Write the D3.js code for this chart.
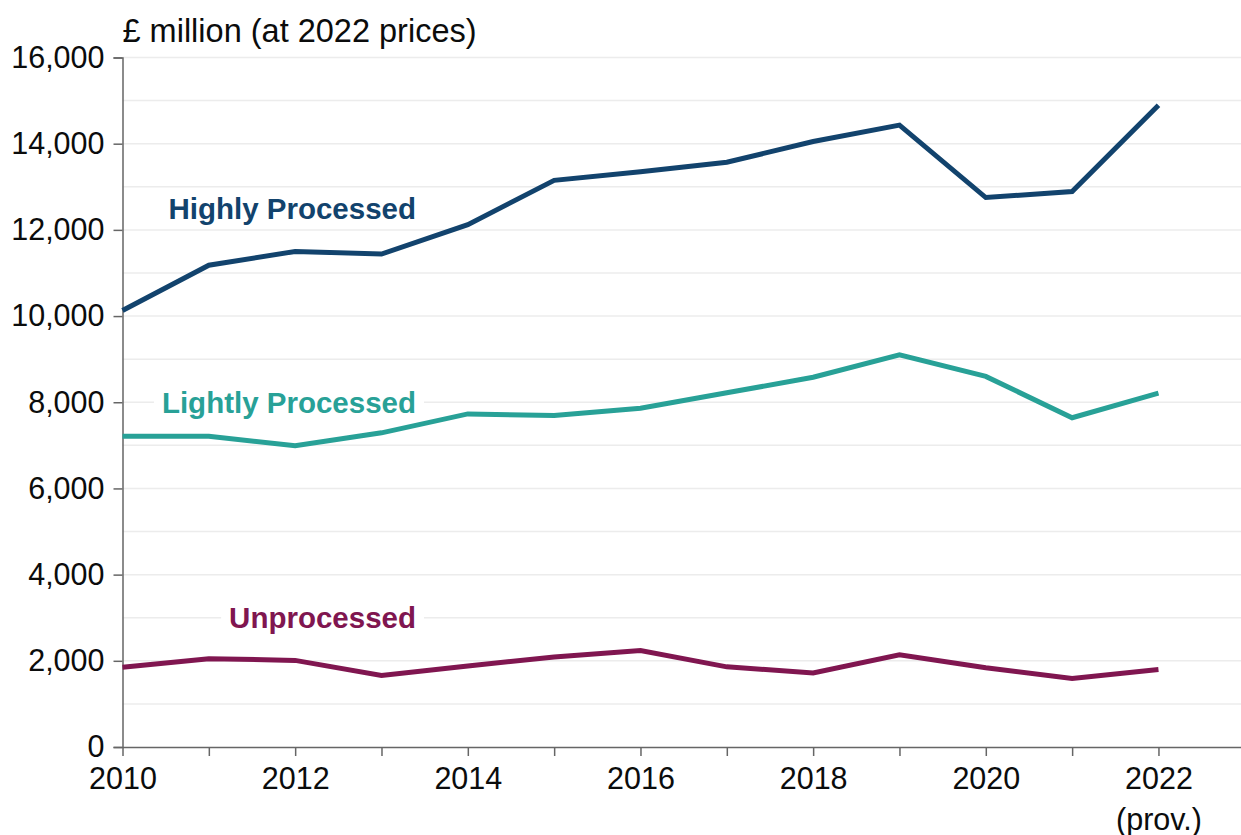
<!DOCTYPE html>
<html>
<head>
<meta charset="utf-8">
<script src="https://cdn.jsdelivr.net/npm/d3@7"></script>
<style>
  body { margin: 0; background: #fff; }
  svg text { font-family: "Liberation Sans", Arial, sans-serif; }
</style>
</head>
<body>
<svg id="chart"></svg>
<script>
// Data
const years = [2010, 2011, 2012, 2013, 2014, 2015, 2016, 2017, 2018, 2019, 2020, 2021, 2022];
const highly = [10130, 11180, 11500, 11440, 12120, 13150, 13350, 13570, 14050, 14430, 12750, 12890, 14890];
const lightly = [7210, 7210, 6990, 7290, 7730, 7690, 7860, 8220, 8580, 9100, 8600, 7640, 8210];
const unprocessed = [1850, 2050, 2010, 1660, 1880, 2090, 2240, 1860, 1720, 2140, 1840, 1590, 1800];
const yTicks = [0, 2000, 4000, 6000, 8000, 10000, 12000, 14000, 16000];
const xLabels = [2010, 2012, 2014, 2016, 2018, 2020, 2022];

const seriesList = [
  { name: "Highly Processed", values: highly, color: "#12436D", labelY: 12500 },
  { name: "Lightly Processed", values: lightly, color: "#28A197", labelY: 8000 },
  { name: "Unprocessed", values: unprocessed, color: "#801650", labelY: 3000 }
];

// Layout
const width = 1241;
const height = 835;
const margin = { top: 57.5, right: 0, bottom: 88, left: 122.5 };
const labelYear = 2013.4;

const svg = d3.select("#chart")
  .attr("width", width)
  .attr("height", height);

const x = d3.scaleLinear()
  .domain([2010, 2023])
  .range([margin.left, margin.left + 13 * 86.33]);

const y = d3.scaleLinear()
  .domain([0, 16000])
  .range([height - margin.bottom, margin.top]);

// Gridlines every 1000
svg.append("g")
  .selectAll("line")
  .data(d3.range(1000, 16001, 1000))
  .join("line")
    .attr("x1", margin.left)
    .attr("x2", width)
    .attr("y1", d => y(d))
    .attr("y2", d => y(d))
    .attr("stroke", "#ececec")
    .attr("stroke-width", 1.5);

// Axes
const yAxis = svg.append("g")
  .attr("transform", `translate(${margin.left},0)`)
  .call(d3.axisLeft(y).tickValues(yTicks).tickSize(9).tickPadding(9).tickFormat(d3.format(",")));

const xAxis = svg.append("g")
  .attr("transform", `translate(0,${height - margin.bottom})`)
  .call(d3.axisBottom(x).tickValues(years.concat([2023])).tickSize(9).tickSizeOuter(0).tickPadding(11)
    .tickFormat(d => xLabels.includes(d) ? d : ""));

[yAxis, xAxis].forEach(ax => {
  ax.selectAll("path, line").attr("stroke", "#666").attr("stroke-width", 1.5);
  ax.selectAll("text").attr("fill", "#0b0c0c").style("font-size", "30.5px");
});

// second line under the provisional year
xAxis.selectAll(".tick")
  .filter(d => d === 2022)
  .select("text")
  .append("tspan")
    .attr("x", 0)
    .attr("dy", "1.35em")
    .text("(prov.)");

// Unit title
svg.append("text")
  .attr("x", margin.left)
  .attr("y", 42)
  .attr("fill", "#0b0c0c")
  .style("font-size", "32.5px")
  .text("£ million (at 2022 prices)");

// Lines
const line = d3.line()
  .x((d, i) => x(years[i]))
  .y(d => y(d));

svg.append("g")
  .selectAll("path")
  .data(seriesList)
  .join("path")
    .attr("fill", "none")
    .attr("stroke", d => d.color)
    .attr("stroke-width", 5)
    .attr("stroke-linejoin", "miter")
    .attr("d", d => line(d.values));

// Direct labels with white background
const labels = svg.append("g")
  .selectAll("g")
  .data(seriesList)
  .join("g");

labels.append("rect").attr("fill", "#fff");

labels.append("text")
  .attr("x", x(labelYear))
  .attr("y", d => y(d.labelY))
  .attr("dy", "0.35em")
  .attr("text-anchor", "end")
  .attr("fill", d => d.color)
  .style("font-size", "29.5px")
  .style("font-weight", "bold")
  .text(d => d.name);

labels.each(function() {
  const g = d3.select(this);
  const bb = g.select("text").node().getBBox();
  g.select("rect")
    .attr("x", bb.x - 8)
    .attr("y", bb.y)
    .attr("width", bb.width + 16)
    .attr("height", bb.height);
});
</script>
</body>
</html>
